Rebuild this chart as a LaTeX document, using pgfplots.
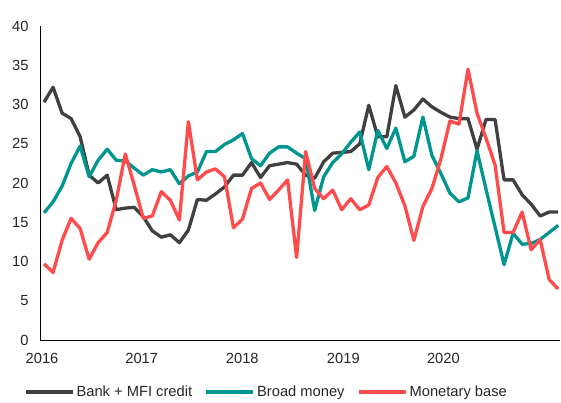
\documentclass[border=0pt]{standalone}
\usepackage{fontspec}
\setmainfont{Liberation Sans}
\usepackage{pgfplots}
\pgfplotsset{compat=1.18}
\definecolor{credit}{RGB}{64,64,64}
\definecolor{broad}{RGB}{0,150,143}
\definecolor{base}{RGB}{255,75,75}

\begin{document}
\begin{tikzpicture}
\useasboundingbox (-40pt,-63pt) rectangle (521pt,340pt);
\begin{axis}[
    scale only axis,
    width=520pt, height=314pt,
    xmin=-0.45, xmax=57.2,
    ymin=0, ymax=40,
    axis lines*=left,
    axis line style={black, line width=0.9pt},
    xtick={-0.22,10.83,21.98,33.18,44.27},
    xticklabels={2016,2017,2018,2019,2020},
    ytick={0,5,...,40},
    major tick length=0pt,
    tick label style={font=\fontsize{14.7}{17}\selectfont, text=black!85},
    /pgf/number format/assume math mode=true,
    yticklabel style={xshift=-8pt},
    xticklabel style={yshift=-10pt},
    legend columns=3,
    legend style={draw=none, fill=none, at={(0.435,-0.166)}, anchor=center,
        font=\fontsize{14.7}{17}\selectfont, text=black!85,
        /tikz/every even column/.append style={column sep=10pt},
        nodes={inner sep=2pt}},
    legend image code/.code={\draw[#1, line width=4pt] (0pt,0pt) -- (47pt,0pt);},
    every axis plot/.append style={line width=3.3pt, line join=round, no markers},
]
% Bank + MFI credit
\addplot[credit] coordinates {
(0,30.3)(1,32.2)(2,28.9)(3,28.2)(4,25.9)(5,21.0)(6,20.0)(7,21.0)(8,16.6)(9,16.8)
(10,16.9)(11,15.7)(12,13.9)(13,13.1)(14,13.4)(15,12.4)(16,14.0)(17,17.9)(18,17.8)(19,18.6)
(20,19.5)(21,21.0)(22,21.0)(23,22.6)(24,20.7)(25,22.2)(26,22.4)(27,22.6)(28,22.4)(29,21.0)
(30,20.6)(31,22.7)(32,23.8)(33,23.9)(34,24.0)(35,25.0)(36,29.9)(37,25.9)(38,25.9)(39,32.4)
(40,28.4)(41,29.3)(42,30.7)(43,29.7)(44,29.0)(45,28.4)(46,28.2)(47,28.2)(48,24.3)(49,28.1)
(50,28.1)(51,20.4)(52,20.4)(53,18.5)(54,17.3)(55,15.8)(56,16.3)(57,16.3)
};
\addlegendentry{Bank + MFI credit}
% Broad money
\addplot[broad] coordinates {
(0,16.2)(1,17.6)(2,19.6)(3,22.5)(4,24.7)(5,20.8)(6,22.9)(7,24.3)(8,22.9)(9,22.8)
(10,21.9)(11,21.0)(12,21.7)(13,21.4)(14,21.7)(15,19.9)(16,20.9)(17,21.4)(18,24.0)(19,24.0)
(20,24.9)(21,25.5)(22,26.3)(23,23.1)(24,22.2)(25,23.8)(26,24.6)(27,24.6)(28,23.8)(29,23.1)
(30,16.5)(31,20.8)(32,22.6)(33,23.7)(34,25.2)(35,26.5)(36,21.7)(37,26.7)(38,24.4)(39,27.0)
(40,22.7)(41,23.4)(42,28.4)(43,23.5)(44,21.2)(45,18.7)(46,17.6)(47,18.1)(48,24.1)(49,19.2)
(50,14.4)(51,9.6)(52,13.6)(53,12.2)(54,12.3)(55,12.8)(56,13.7)(57,14.6)
};
\addlegendentry{Broad money}
% Monetary base
\addplot[base] coordinates {
(0,9.7)(1,8.6)(2,12.7)(3,15.5)(4,14.2)(5,10.3)(6,12.4)(7,13.7)(8,17.8)(9,23.7)
(10,19.7)(11,15.5)(12,15.8)(13,18.9)(14,17.8)(15,15.3)(16,27.8)(17,20.4)(18,21.4)(19,21.8)
(20,20.8)(21,14.3)(22,15.4)(23,19.3)(24,20.0)(25,17.9)(26,19.1)(27,20.4)(28,10.5)(29,24.0)
(30,19.3)(31,18.0)(32,19.1)(33,16.6)(34,18.0)(35,16.6)(36,17.2)(37,20.7)(38,22.1)(39,20.0)
(40,17.1)(41,12.7)(42,17.0)(43,19.3)(44,23.1)(45,27.9)(46,27.5)(47,34.5)(48,28.9)(49,25.7)
(50,22.3)(51,13.7)(52,13.7)(53,16.3)(54,11.5)(55,12.8)(56,7.7)(57,6.5)
};
\addlegendentry{Monetary base}
\end{axis}
\end{tikzpicture}
\end{document}
